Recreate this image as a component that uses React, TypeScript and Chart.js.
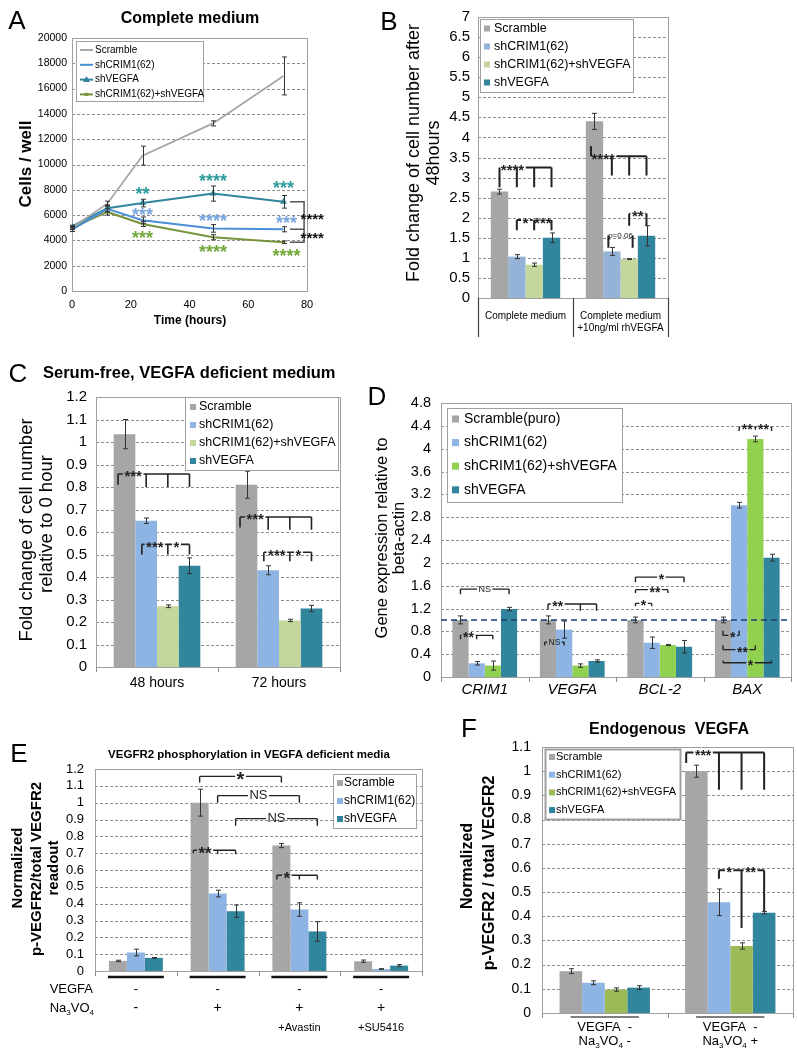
import React, { useEffect, useRef } from 'react';
import { Chart, registerables } from 'chart.js';

Chart.register(...registerables);

const FONT = '"Liberation Sans", Arial, Helvetica, sans-serif';
const PAGE_W = 797;
const PAGE_H = 1055;

// ---------------- colours ----------------
const C_GRAY = '#a6a6a6';
const C_LBLUE = '#8db4e2';
const C_LBLUE_B = '#95b3d7';
const C_LGREEN = '#c3d69b';
const C_GREEN_D = '#92d050';
const C_GREEN_F = '#9bbb59';
const C_TEAL = '#31859c';
const C_A_BLUE = '#4a8fd6';
const C_A_GREEN = '#77933c';
const C_STAR_TEAL = '#2e9c9c';
const C_STAR_BLUE = '#79a6de';
const C_STAR_GREEN = '#73a83a';

// ---------------- Panel A data ----------------
const aHours = [0, 12, 24, 48, 72];
const aNames = ['Scramble', 'shCRIM1(62)', 'shVEGFA', 'shCRIM1(62)+shVEGFA'];
const aScramble = [5000, 6900, 10700, 13250, 17000];
const aScrambleErr = [150, 200, 750, 200, 1500];
const aCrim = [4850, 6500, 5600, 4950, 4880];
const aCrimErr = [150, 250, 250, 300, 200];
const aVegfa = [5100, 6550, 6950, 7700, 7050];
const aVegfaErr = [100, 250, 300, 600, 500];
const aCombo = [5000, 6250, 5300, 4250, 3850];
const aComboErr = [100, 250, 200, 200, 100];
const aXRange = { min: 0, max: 80, step: 20 };
const aYRange = { min: 0, max: 20000, step: 2000 };
const aStarsVegfa = [{ x: 24, y: 7900, t: '**' }, { x: 48, y: 8900, t: '****' }, { x: 72, y: 8380, t: '***' }];
const aStarsCrim = [{ x: 24, y: 6270, t: '***' }, { x: 48, y: 5740, t: '****' }, { x: 73, y: 5610, t: '***' }];
const aStarsCombo = [{ x: 24, y: 4430, t: '***' }, { x: 48, y: 3320, t: '****' }, { x: 73, y: 2980, t: '****' }];
const aStarsCompare = [{ x: 81.8, y: 5870, t: '****' }, { x: 81.8, y: 4370, t: '****' }];
const aCompareBrackets = [
  [[74.2, 7050], [79, 7050], [79, 4880], [74.2, 4880]],
  [[79, 4880], [79, 3850], [74.2, 3850]],
];

// ---------------- Panel B data ----------------
const bCategories = [['Complete medium'], ['Complete medium', '+10ng/ml rhVEGFA']];
const bNames = ['Scramble', 'shCRIM1(62)', 'shCRIM1(62)+shVEGFA', 'shVEGFA'];
const bScramble = [2.65, 4.4];
const bScrambleErr = [0.06, 0.2];
const bCrim = [1.03, 1.16];
const bCrimErr = [0.05, 0.1];
const bCombo = [0.83, 0.97];
const bComboErr = [0.04, 0.01];
const bVegfa = [1.5, 1.55];
const bVegfaErr = [0.12, 0.25];
const bYRange = { min: 0, max: 7, step: 0.5 };
const bBrackets = [
  { g: 0, y: 3.25, pts: [[0, 2.76], [1, 2.76], [2, 2.76], [3, 2.76]], labels: [{ t: '****', at: 0.75 }] },
  { g: 0, y: 1.94, pts: [[1, 1.69], [2, 1.69], [3, 1.69]], labels: [{ t: '*', at: 1.5 }, { t: '***', at: 2.5 }] },
  { g: 1, y: 3.53, pts: [[-0.2, 3.78], [1, 3.05], [2, 3.05], [3, 3.05]], labels: [{ t: '****', at: 0.5 }] },
  { g: 1, y: 1.56, pts: [[0.8, 1.25], [2.2, 1.25]], labels: [{ t: 'p=0.06', at: 1.5, size: 8, weight: 'normal' }] },
  { g: 1, y: 2.1, pts: [[2, 1.8], [3, 1.8]], labels: [{ t: '**', at: 2.5 }] },
];

// ---------------- Panel C data ----------------
const cCategories = ['48 hours', '72 hours'];
const cNames = ['Scramble', 'shCRIM1(62)', 'shCRIM1(62)+shVEGFA', 'shVEGFA'];
const cScramble = [1.035, 0.81];
const cScrambleErr = [0.065, 0.06];
const cCrim = [0.65, 0.43];
const cCrimErr = [0.012, 0.02];
const cCombo = [0.27, 0.207];
const cComboErr = [0.006, 0.005];
const cVegfa = [0.45, 0.26];
const cVegfaErr = [0.035, 0.014];
const cYRange = { min: 0, max: 1.2, step: 0.1 };
const cBrackets = [
  { g: 0, y: 0.858, pts: [[-0.3, 0.81], [1, 0.8], [2, 0.8], [3, 0.8]], labels: [{ t: '***', at: 0.4 }] },
  { g: 0, y: 0.545, pts: [[0.8, 0.5], [2, 0.5], [3, 0.5]], labels: [{ t: '***', at: 1.4 }, { t: '*', at: 2.4 }] },
  { g: 1, y: 0.667, pts: [[-0.3, 0.62], [1, 0.61], [2, 0.61], [3, 0.61]], labels: [{ t: '***', at: 0.4 }] },
  { g: 1, y: 0.51, pts: [[0.8, 0.47], [2, 0.47], [3, 0.47]], labels: [{ t: '***', at: 1.4 }, { t: '*', at: 2.4 }] },
];

// ---------------- Panel D data ----------------
const dCategories = ['CRIM1', 'VEGFA', 'BCL-2', 'BAX'];
const dNames = ['Scramble(puro)', 'shCRIM1(62)', 'shCRIM1(62)+shVEGFA', 'shVEGFA'];
const dScramble = [1.0, 1.0, 1.0, 1.0];
const dScrambleErr = [0.07, 0.07, 0.05, 0.05];
const dCrim = [0.24, 0.83, 0.6, 3.01];
const dCrimErr = [0.03, 0.15, 0.1, 0.05];
const dCombo = [0.2, 0.2, 0.56, 4.17];
const dComboErr = [0.08, 0.03, 0.01, 0.05];
const dVegfa = [1.19, 0.28, 0.53, 2.09];
const dVegfaErr = [0.03, 0.02, 0.11, 0.06];
const dYRange = { min: 0, max: 4.8, step: 0.4 };
const dReference = 1.0;
const dBrackets = [
  { g: 0, y: 1.54, pts: [[0, 1.45], [3, 1.45]], labels: [{ t: 'NS', at: 1.5, size: 9, weight: 'normal' }] },
  { g: 0, y: 0.73, pts: [[0, 0.66], [1, 0.66], [2, 0.66]], labels: [{ t: '**', at: 0.5 }] },
  { g: 1, y: 1.28, pts: [[0, 1.18], [2, 1.16], [3, 1.16]], labels: [{ t: '**', at: 0.6 }] },
  { g: 1, y: 0.61, pts: [[-0.2, 0.55], [1, 0.55]], labels: [{ t: 'NS', at: 0.4, size: 8.5, weight: 'normal' }] },
  { g: 2, y: 1.75, pts: [[0, 1.66], [3, 1.66]], labels: [{ t: '*', at: 1.6 }] },
  { g: 2, y: 1.53, pts: [[0, 1.47], [2, 1.47]], labels: [{ t: '**', at: 1.2 }] },
  { g: 2, y: 1.29, pts: [[0, 1.24], [1, 1.24]], labels: [{ t: '*', at: 0.5 }] },
  { g: 3, y: 4.38, pts: [[1, 4.31], [2, 4.33], [3, 4.31]], labels: [{ t: '**', at: 1.5 }, { t: '**', at: 2.5 }] },
  { g: 3, y: 0.73, pts: [[0, 0.81], [1, 0.81]], labels: [{ t: '*', at: 0.6 }] },
  { g: 3, y: 0.48, pts: [[0, 0.55], [2, 0.55]], labels: [{ t: '**', at: 1.2 }] },
  { g: 3, y: 0.25, pts: [[0, 0.29], [3, 0.29]], labels: [{ t: '*', at: 1.7 }] },
];

// ---------------- Panel E data ----------------
const eGroups = ['G1', 'G2', 'G3', 'G4'];
const eNames = ['Scramble', 'shCRIM1(62)', 'shVEGFA'];
const eScramble = [0.06, 1.0, 0.745, 0.058];
const eScrambleErr = [0.004, 0.08, 0.012, 0.007];
const eCrim = [0.11, 0.46, 0.365, 0.012];
const eCrimErr = [0.02, 0.02, 0.04, 0.002];
const eVegfa = [0.078, 0.355, 0.235, 0.032];
const eVegfaErr = [0.002, 0.037, 0.058, 0.006];
const eVegfaRow = ['-', '-', '-', '-'];
const eNaRow = ['-', '+', '+', '+'];
const eExtraRow = ['', '', '+Avastin', '+SU5416'];
const eYRange = { min: 0, max: 1.2, step: 0.1 };
const eBrackets = [
  { g: 1, y: 1.156, pts: [[0, 1.12], [0, 1.12, 2]], labels: [{ t: '*', at: 'mid', size: 20 }] },
  { g: 1, y: 1.042, pts: [[1, 1.0], [1, 1.0, 2]], labels: [{ t: 'NS', at: 'mid', size: 13, weight: 'normal' }] },
  { g: 1, y: 0.905, pts: [[2, 0.863], [2, 0.863, 2]], labels: [{ t: 'NS', at: 'mid', size: 13, weight: 'normal' }] },
  { g: 1, y: 0.717, pts: [[-0.35, 0.7], [1, 0.693], [2, 0.693]], labels: [{ t: '**', at: 0.3, size: 17 }] },
  { g: 2, y: 0.569, pts: [[-0.25, 0.543], [1, 0.543], [2, 0.543]], labels: [{ t: '*', at: 0.3, size: 17 }] },
];

// ---------------- Panel F data ----------------
const fGroups = ['G1', 'G2'];
const fNames = ['Scramble', 'shCRIM1(62)', 'shCRIM1(62)+shVEGFA', 'shVEGFA'];
const fScramble = [0.173, 1.0];
const fScrambleErr = [0.01, 0.025];
const fCrim = [0.125, 0.458];
const fCrimErr = [0.008, 0.055];
const fCombo = [0.097, 0.277];
const fComboErr = [0.007, 0.013];
const fVegfa = [0.105, 0.415];
const fVegfaErr = [0.008, 0.005];
const fVegfaRow = ['VEGFA  -', 'VEGFA  -'];
const fNaRow = ['-', '+'];
const fYRange = { min: 0, max: 1.1, step: 0.1 };
const fBrackets = [
  { g: 1, y: 1.077, pts: [[-0.45, 1.034], [1, 0.923], [2, 0.923], [3, 0.923]], labels: [{ t: '***', at: 0.3 }] },
  { g: 1, y: 0.59, pts: [[1, 0.555], [2, 0.351], [3, 0.422]], labels: [{ t: '*', at: 1.45 }, { t: '**', at: 2.4 }] },
];

// ---------------- helpers ----------------
const fontStr = (size: number, weight = 'normal', style = 'normal') => `${style} ${weight} ${size}px ${FONT}`;
const fmt = (v: any) => String(Math.round(Number(v) * 100) / 100);
const naSegs = (suffix: string) => [{ t: 'Na' }, { t: '3', sub: true }, { t: 'VO' }, { t: '4', sub: true }, { t: suffix }];

function drawTextItem(ctx: CanvasRenderingContext2D, t: any) {
  ctx.save();
  ctx.fillStyle = t.color || '#000';
  ctx.font = fontStr(t.size, t.weight || 'normal', t.style || 'normal');
  ctx.textBaseline = 'middle';
  ctx.textAlign = t.align || 'center';
  ctx.translate(t.x, t.y);
  if (t.rot) ctx.rotate(t.rot);
  ctx.fillText(t.text, 0, 0);
  ctx.restore();
}

function drawRich(ctx: CanvasRenderingContext2D, segs: any[], x: number, y: number, size: number, align: string) {
  ctx.save();
  ctx.fillStyle = '#000';
  ctx.textBaseline = 'middle';
  ctx.textAlign = 'left';
  const widths = segs.map((s) => {
    ctx.font = fontStr(s.sub ? size * 0.62 : size);
    return ctx.measureText(s.t).width;
  });
  const total = widths.reduce((a, b) => a + b, 0);
  let cx = align === 'right' ? x - total : align === 'center' ? x - total / 2 : x;
  segs.forEach((s, i) => {
    ctx.font = fontStr(s.sub ? size * 0.62 : size);
    ctx.fillText(s.t, cx, s.sub ? y + size * 0.33 : y);
    cx += widths[i];
  });
  ctx.restore();
}

function barX(chart: any, g: number, b: number) {
  const m0 = chart.getDatasetMeta(0).data[g];
  const m1 = chart.getDatasetMeta(1).data[g];
  return m0.x + b * (m1.x - m0.x);
}

function drawBracket(chart: any, br: any, st: any) {
  const ctx = chart.ctx;
  const ys = chart.scales.y;
  const yp = ys.getPixelForValue(br.y);
  const xs = br.pts.map((p: any) => barX(chart, p.length > 2 ? p[2] : br.g, p[0]));
  const x0 = Math.min(...xs);
  const x1 = Math.max(...xs);
  ctx.save();
  ctx.strokeStyle = st.color;
  ctx.fillStyle = st.color;
  ctx.lineWidth = st.lw;
  const labs = (br.labels || []).map((l: any) => {
    const size = l.size || st.size;
    const weight = l.weight || st.weight;
    ctx.font = fontStr(size, weight);
    const w = ctx.measureText(l.t).width;
    const lx = l.at === 'mid' ? (x0 + x1) / 2 : barX(chart, br.g, l.at);
    return { t: l.t, size, weight, w, lx };
  });
  let segs: number[][] = [[x0, x1]];
  labs.forEach((l: any) => {
    const g0 = l.lx - l.w / 2 - 1.5;
    const g1 = l.lx + l.w / 2 + 1.5;
    const out: number[][] = [];
    segs.forEach(([s0, s1]) => {
      if (g1 <= s0 || g0 >= s1) { out.push([s0, s1]); return; }
      if (g0 > s0) out.push([s0, g0]);
      if (g1 < s1) out.push([g1, s1]);
    });
    segs = out;
  });
  ctx.beginPath();
  segs.forEach(([s0, s1]) => { ctx.moveTo(s0, yp); ctx.lineTo(s1, yp); });
  br.pts.forEach((p: any, i: number) => {
    ctx.moveTo(xs[i], yp);
    ctx.lineTo(xs[i], ys.getPixelForValue(p[1]));
  });
  ctx.stroke();
  labs.forEach((l: any) => {
    ctx.font = fontStr(l.size, l.weight);
    ctx.textAlign = 'center';
    if (/^\*+$/.test(l.t)) {
      ctx.textBaseline = 'alphabetic';
      ctx.fillText(l.t, l.lx, yp + l.size * 0.5);
    } else {
      ctx.textBaseline = 'middle';
      ctx.fillText(l.t, l.lx, yp);
    }
  });
  ctx.restore();
}

function drawLegend(ctx: CanvasRenderingContext2D, L: any) {
  ctx.save();
  ctx.fillStyle = '#fff';
  ctx.fillRect(L.x, L.y, L.w, L.h);
  ctx.strokeStyle = L.border || '#a0a0a0';
  ctx.lineWidth = L.borderW || 1;
  ctx.strokeRect(L.x + 0.5, L.y + 0.5, L.w, L.h);
  L.items.forEach((it: any, i: number) => {
    const cy = L.rowY0 + i * L.rowStep;
    if (it.kind === 'box') {
      ctx.fillStyle = it.color;
      ctx.fillRect(L.markerX, cy - L.ms / 2, L.ms, L.ms);
    } else {
      ctx.strokeStyle = it.color;
      ctx.lineWidth = 2;
      ctx.beginPath();
      ctx.moveTo(L.markerX, cy);
      ctx.lineTo(L.markerX + L.markerW, cy);
      ctx.stroke();
      const mx = L.markerX + L.markerW / 2;
      ctx.fillStyle = it.color;
      if (it.kind === 'lineTri') {
        ctx.beginPath();
        ctx.moveTo(mx, cy - 3.5);
        ctx.lineTo(mx + 3.5, cy + 2.5);
        ctx.lineTo(mx - 3.5, cy + 2.5);
        ctx.closePath();
        ctx.fill();
      } else if (it.kind === 'lineDot') {
        ctx.fillRect(mx - 2, cy - 1.5, 4, 3);
      }
    }
    ctx.fillStyle = '#000';
    ctx.font = fontStr(L.size);
    ctx.textAlign = 'left';
    ctx.textBaseline = 'middle';
    ctx.fillText(it.label, L.textX, cy);
  });
  ctx.restore();
}

function decoPlugin(d: any) {
  return {
    id: 'deco',
    beforeDatasetsDraw(chart: any) {
      const ctx = chart.ctx;
      const a = chart.chartArea;
      const ys = chart.scales.y;
      ctx.save();
      if (d.grid) {
        ctx.strokeStyle = '#8f8f8f';
        ctx.lineWidth = 1;
        ctx.setLineDash([3, 2]);
        ys.ticks.forEach((t: any) => {
          const y = Math.round(ys.getPixelForValue(t.value)) + 0.5;
          if (y < a.top + 1.5 || y > a.bottom - 1.5) return;
          ctx.beginPath();
          ctx.moveTo(a.left, y);
          ctx.lineTo(a.right, y);
          ctx.stroke();
        });
        ctx.setLineDash([]);
      }
      if (d.box) {
        ctx.strokeStyle = d.boxColor || '#a0a0a0';
        ctx.lineWidth = 1;
        ctx.strokeRect(Math.round(a.left) + 0.5, Math.round(a.top) + 0.5, Math.round(a.right - a.left), Math.round(a.bottom - a.top));
      }
      ctx.restore();
    },
    afterDatasetsDraw(chart: any) {
      const ctx = chart.ctx;
      const a = chart.chartArea;
      const ys = chart.scales.y;
      const xsc = chart.scales.x;
      ctx.save();
      if (d.hline) {
        const y = ys.getPixelForValue(d.hline.value);
        ctx.strokeStyle = d.hline.color;
        ctx.lineWidth = d.hline.width;
        ctx.setLineDash(d.hline.dash);
        ctx.beginPath();
        ctx.moveTo(a.left, y);
        ctx.lineTo(a.right, y);
        ctx.stroke();
        ctx.setLineDash([]);
      }
      if (d.errors) {
        ctx.strokeStyle = '#333';
        ctx.lineWidth = 1;
        d.errors.forEach((errs: number[], i: number) => {
          const meta = chart.getDatasetMeta(i);
          meta.data.forEach((el: any, j: number) => {
            const v = d.values[i][j];
            const e = errs[j];
            if (!e) return;
            const y1 = ys.getPixelForValue(v + e);
            const y2 = ys.getPixelForValue(v - e);
            const x = Math.round(el.x) + 0.5;
            ctx.beginPath();
            ctx.moveTo(x, y1); ctx.lineTo(x, y2);
            ctx.moveTo(x - 2.5, y1); ctx.lineTo(x + 2.5, y1);
            ctx.moveTo(x - 2.5, y2); ctx.lineTo(x + 2.5, y2);
            ctx.stroke();
          });
        });
      }
      if (d.xMarks) {
        const n = chart.data.labels.length;
        ctx.strokeStyle = '#8a8a8a';
        ctx.lineWidth = 1;
        ctx.beginPath();
        for (let i = 0; i <= n; i++) {
          const x = Math.round(xsc.getPixelForValue(i - 0.5)) + 0.5;
          ctx.moveTo(x, a.bottom);
          ctx.lineTo(x, a.bottom + d.xMarks);
        }
        ctx.stroke();
      }
      if (d.tableLines) {
        const n = chart.data.labels.length;
        ctx.strokeStyle = '#444';
        ctx.lineWidth = 1.2;
        ctx.beginPath();
        for (let i = 0; i <= n; i++) {
          const x = Math.round(xsc.getPixelForValue(i - 0.5)) + 0.5;
          ctx.moveTo(x, a.bottom);
          ctx.lineTo(x, a.bottom + d.tableLines);
        }
        ctx.stroke();
      }
      if (d.underlines) {
        const U = d.underlines;
        const nd = chart.data.datasets.length;
        ctx.strokeStyle = U.color;
        ctx.lineWidth = U.width;
        chart.data.labels.forEach((_: any, g: number) => {
          const first = chart.getDatasetMeta(0).data[g];
          const last = chart.getDatasetMeta(nd - 1).data[g];
          ctx.beginPath();
          ctx.moveTo(first.x - first.width / 2 + U.inset, U.y);
          ctx.lineTo(last.x + last.width / 2 - U.inset, U.y);
          ctx.stroke();
        });
      }
      if (d.legend) drawLegend(ctx, d.legend);
      if (d.brackets) d.brackets.forEach((br: any) => drawBracket(chart, br, d.bracketStyle));
      if (d.dataPaths) {
        d.dataPaths.forEach((P: any) => {
          ctx.strokeStyle = P.color;
          ctx.lineWidth = P.width;
          ctx.beginPath();
          P.pts.forEach((p: number[], i: number) => {
            const x = xsc.getPixelForValue(p[0]);
            const y = ys.getPixelForValue(p[1]);
            if (i === 0) ctx.moveTo(x, y); else ctx.lineTo(x, y);
          });
          ctx.stroke();
        });
      }
      if (d.dataTexts) {
        d.dataTexts.forEach((T: any) => {
          ctx.fillStyle = T.color;
          ctx.font = fontStr(T.size, 'bold');
          ctx.textAlign = 'center';
          ctx.textBaseline = 'alphabetic';
          T.items.forEach((s: any) => {
            ctx.fillText(s.t, xsc.getPixelForValue(s.x), ys.getPixelForValue(s.y) + T.size * 0.5);
          });
        });
      }
      if (d.groupRows) {
        d.groupRows.forEach((row: any) => {
          row.labels.forEach((lab: any, g: number) => {
            const x = xsc.getPixelForValue(g);
            if (row.rich) drawRich(ctx, lab, x, row.y, row.size, 'center');
            else drawTextItem(ctx, { text: lab, x, y: row.y, size: row.size });
          });
        });
      }
      if (d.texts) d.texts.forEach((t: any) => drawTextItem(ctx, t));
      if (d.rich) d.rich.forEach((r: any) => drawRich(ctx, r.segs, r.x, r.y, r.size, r.align));
      ctx.restore();
    },
  };
}

function baseOptions(g: any) {
  return {
    responsive: false,
    animation: false,
    devicePixelRatio: 1,
    events: [],
    layout: {
      padding: { left: g.left - g.yW, top: g.top, right: PAGE_W - g.right, bottom: PAGE_H - g.bottom - g.xH },
    },
    plugins: { legend: { display: false }, tooltip: { enabled: false }, title: { display: false } },
  };
}

function yScaleOpts(r: any, g: any, size: number, pad: number) {
  return {
    type: 'linear',
    min: r.min,
    max: r.max,
    grid: { display: false, drawTicks: false },
    border: { display: false },
    ticks: { stepSize: r.step, font: { family: FONT, size }, color: '#000', padding: pad, callback: fmt, autoSkip: false },
    afterFit: (s: any) => { s.width = g.yW; },
  };
}

function makeBar(canvas: HTMLCanvasElement, p: any) {
  const values = p.series.map((s: any) => s.data);
  const errors = p.series.map((s: any) => s.err);
  const opts: any = baseOptions(p.g);
  opts.scales = {
    x: {
      type: 'category',
      offset: true,
      grid: { display: false, drawTicks: false },
      border: { display: false },
      ticks: {
        display: p.x.display !== false,
        font: { family: FONT, size: p.x.size || 12, style: p.x.style || 'normal', lineHeight: 1.2 },
        color: '#000',
        padding: p.x.pad || 0,
        maxRotation: 0,
        minRotation: 0,
        autoSkip: false,
      },
      afterFit: (s: any) => { s.height = p.g.xH; },
    },
    y: yScaleOpts(p.y, p.g, p.y.size, p.y.pad),
  };
  return new Chart(canvas, {
    type: 'bar',
    data: {
      labels: p.labels,
      datasets: p.series.map((s: any) => ({
        label: s.name,
        data: s.data,
        backgroundColor: s.color,
        borderWidth: 0,
        categoryPercentage: p.cp,
        barPercentage: 1,
      })),
    },
    options: opts,
    plugins: [decoPlugin({ ...p.deco, values, errors })],
  } as any);
}

// ---------------- Panel builders ----------------
function makeA(canvas: HTMLCanvasElement) {
  const g = { left: 72, right: 307, top: 38, bottom: 291, yW: 50, xH: 22 };
  const series = [
    { data: aScramble, err: aScrambleErr, color: C_GRAY, kind: 'line', width: 1.8, r: 0, ps: 'circle' },
    { data: aCrim, err: aCrimErr, color: C_A_BLUE, kind: 'line', width: 2, r: 0, ps: 'circle' },
    { data: aVegfa, err: aVegfaErr, color: C_TEAL, kind: 'lineTri', width: 2, r: 4, ps: 'triangle' },
    { data: aCombo, err: aComboErr, color: C_A_GREEN, kind: 'lineDot', width: 2, r: 1.6, ps: 'rect' },
  ];
  const opts: any = baseOptions(g);
  opts.scales = {
    x: {
      type: 'linear',
      min: aXRange.min,
      max: aXRange.max,
      grid: { display: false, drawTicks: false },
      border: { display: false },
      ticks: { stepSize: aXRange.step, font: { family: FONT, size: 11 }, color: '#000', padding: 7, callback: fmt },
      afterFit: (s: any) => { s.height = g.xH; },
    },
    y: yScaleOpts(aYRange, g, 10.5, 5),
  };
  const deco = {
    grid: true,
    box: true,
    values: series.map((s) => s.data),
    errors: series.map((s) => s.err),
    legend: {
      x: 76, y: 41, w: 127, h: 60, rowY0: 50, rowStep: 14.8, markerX: 80, markerW: 13, ms: 6, textX: 95, size: 10,
      items: aNames.map((n, i) => ({ label: n, color: series[i].color, kind: series[i].kind })),
    },
    dataTexts: [
      { color: C_STAR_TEAL, size: 18, items: aStarsVegfa },
      { color: C_STAR_BLUE, size: 18, items: aStarsCrim },
      { color: C_STAR_GREEN, size: 18, items: aStarsCombo },
      { color: '#111', size: 15, items: aStarsCompare },
    ],
    dataPaths: aCompareBrackets.map((pts) => ({ pts, color: '#555', width: 1.5 })),
    texts: [
      { text: 'A', x: 17, y: 22, size: 26 },
      { text: 'Complete medium', x: 190, y: 19, size: 16, weight: 'bold' },
      { text: 'Cells / well', x: 26, y: 164, size: 17, weight: 'bold', rot: -Math.PI / 2 },
      { text: 'Time (hours)', x: 190, y: 321, size: 12, weight: 'bold' },
    ],
  };
  return new Chart(canvas, {
    type: 'line',
    data: {
      datasets: series.map((s, i) => ({
        label: aNames[i],
        data: aHours.map((x, j) => ({ x, y: s.data[j] })),
        borderColor: s.color,
        backgroundColor: s.color,
        borderWidth: s.width,
        pointRadius: s.r,
        pointStyle: s.ps,
        pointBackgroundColor: s.color,
        pointBorderWidth: 0,
        tension: 0,
        fill: false,
      })),
    },
    options: opts,
    plugins: [decoPlugin(deco)],
  } as any);
}

function makeB(canvas: HTMLCanvasElement) {
  return makeBar(canvas, {
    labels: bCategories,
    cp: 0.73,
    g: { left: 478, right: 668, top: 16, bottom: 298, yW: 50, xH: 42 },
    y: { ...bYRange, size: 15, pad: 8 },
    x: { size: 10, pad: 12 },
    series: [
      { name: bNames[0], data: bScramble, err: bScrambleErr, color: C_GRAY },
      { name: bNames[1], data: bCrim, err: bCrimErr, color: C_LBLUE_B },
      { name: bNames[2], data: bCombo, err: bComboErr, color: C_LGREEN },
      { name: bNames[3], data: bVegfa, err: bVegfaErr, color: C_TEAL },
    ],
    deco: {
      grid: true,
      box: true,
      tableLines: 39,
      legend: {
        x: 480, y: 19, w: 153, h: 73, rowY0: 28.5, rowStep: 18, markerX: 484, ms: 6, textX: 494, size: 12.5,
        items: bNames.map((n, i) => ({ label: n, color: [C_GRAY, C_LBLUE_B, C_LGREEN, C_TEAL][i], kind: 'box' })),
      },
      brackets: bBrackets,
      bracketStyle: { color: '#222', lw: 2, size: 15, weight: 'bold' },
      texts: [
        { text: 'B', x: 389, y: 23, size: 26 },
        { text: 'Fold change of cell number after', x: 414, y: 153, size: 18, rot: -Math.PI / 2 },
        { text: '48hours', x: 434, y: 153, size: 18, rot: -Math.PI / 2 },
      ],
    },
  });
}

function makeC(canvas: HTMLCanvasElement) {
  return makeBar(canvas, {
    labels: cCategories,
    cp: 0.71,
    g: { left: 96, right: 340, top: 397, bottom: 667, yW: 50, xH: 30 },
    y: { ...cYRange, size: 15, pad: 9 },
    x: { size: 14, pad: 8 },
    series: [
      { name: cNames[0], data: cScramble, err: cScrambleErr, color: C_GRAY },
      { name: cNames[1], data: cCrim, err: cCrimErr, color: C_LBLUE },
      { name: cNames[2], data: cCombo, err: cComboErr, color: C_LGREEN },
      { name: cNames[3], data: cVegfa, err: cVegfaErr, color: C_TEAL },
    ],
    deco: {
      grid: true,
      box: true,
      xMarks: 5,
      legend: {
        x: 185, y: 397, w: 153, h: 73, rowY0: 407, rowStep: 18, markerX: 190, ms: 6, textX: 199, size: 12.5,
        items: cNames.map((n, i) => ({ label: n, color: [C_GRAY, C_LBLUE, C_LGREEN, C_TEAL][i], kind: 'box' })),
      },
      brackets: cBrackets,
      bracketStyle: { color: '#222', lw: 1.6, size: 15, weight: 'bold' },
      texts: [
        { text: 'C', x: 18, y: 375, size: 26 },
        { text: 'Serum-free, VEGFA deficient medium', x: 43, y: 373, size: 16.5, weight: 'bold', align: 'left' },
        { text: 'Fold change of cell number', x: 27, y: 530, size: 18.5, rot: -Math.PI / 2 },
        { text: 'relative to 0 hour', x: 47, y: 524, size: 18.5, rot: -Math.PI / 2 },
      ],
    },
  });
}

function makeD(canvas: HTMLCanvasElement) {
  return makeBar(canvas, {
    labels: dCategories,
    cp: 0.74,
    g: { left: 441, right: 791, top: 403, bottom: 677, yW: 50, xH: 30 },
    y: { ...dYRange, size: 14.5, pad: 10 },
    x: { size: 15, pad: 4, style: 'italic' },
    series: [
      { name: dNames[0], data: dScramble, err: dScrambleErr, color: C_GRAY },
      { name: dNames[1], data: dCrim, err: dCrimErr, color: C_LBLUE },
      { name: dNames[2], data: dCombo, err: dComboErr, color: C_GREEN_D },
      { name: dNames[3], data: dVegfa, err: dVegfaErr, color: C_TEAL },
    ],
    deco: {
      grid: true,
      box: true,
      xMarks: 5,
      hline: { value: dReference, color: '#1f3b73', width: 1.5, dash: [6, 4] },
      legend: {
        x: 447, y: 408, w: 175, h: 94, rowY0: 419, rowStep: 23.6, markerX: 452, ms: 7, textX: 464, size: 14,
        items: dNames.map((n, i) => ({ label: n, color: [C_GRAY, C_LBLUE, C_GREEN_D, C_TEAL][i], kind: 'box' })),
      },
      brackets: dBrackets,
      bracketStyle: { color: '#222', lw: 1.4, size: 14, weight: 'bold' },
      texts: [
        { text: 'D', x: 377, y: 398, size: 26 },
        { text: 'Gene expression relative to', x: 382, y: 538, size: 16.5, rot: -Math.PI / 2 },
        { text: 'beta-actin', x: 399, y: 538, size: 16.5, rot: -Math.PI / 2 },
      ],
    },
  });
}

function makeE(canvas: HTMLCanvasElement) {
  return makeBar(canvas, {
    labels: eGroups,
    cp: 0.66,
    g: { left: 95, right: 422, top: 769, bottom: 971, yW: 50, xH: 20 },
    y: { ...eYRange, size: 13, pad: 11 },
    x: { display: false },
    series: [
      { name: eNames[0], data: eScramble, err: eScrambleErr, color: C_GRAY },
      { name: eNames[1], data: eCrim, err: eCrimErr, color: C_LBLUE },
      { name: eNames[2], data: eVegfa, err: eVegfaErr, color: C_TEAL },
    ],
    deco: {
      grid: true,
      box: true,
      xMarks: 5,
      underlines: { y: 977, color: '#111', width: 2.5, inset: -1 },
      legend: {
        x: 333, y: 774, w: 83, h: 54, rowY0: 783, rowStep: 18, markerX: 337, ms: 6, textX: 344, size: 12,
        items: eNames.map((n, i) => ({ label: n, color: [C_GRAY, C_LBLUE, C_TEAL][i], kind: 'box' })),
      },
      brackets: eBrackets,
      bracketStyle: { color: '#222', lw: 1.4, size: 17, weight: 'bold' },
      groupRows: [
        { y: 989, labels: eVegfaRow, size: 13 },
        { y: 1008, labels: eNaRow, size: 14 },
        { y: 1028, labels: eExtraRow, size: 11 },
      ],
      texts: [
        { text: 'E', x: 19, y: 755, size: 26 },
        { text: 'VEGFR2 phosphorylation in VEGFA deficient media', x: 249, y: 755, size: 11.5, weight: 'bold' },
        { text: 'Normalized', x: 18, y: 868, size: 15, weight: 'bold', rot: -Math.PI / 2 },
        { text: 'p-VEGFR2/total VEGFR2', x: 37, y: 869, size: 15, weight: 'bold', rot: -Math.PI / 2 },
        { text: 'readout', x: 54, y: 868, size: 15, weight: 'bold', rot: -Math.PI / 2 },
        { text: 'VEGFA', x: 93, y: 989, size: 13, align: 'right' },
      ],
      rich: [{ segs: naSegs(''), x: 94, y: 1008, size: 13, align: 'right' }],
    },
  });
}

function makeF(canvas: HTMLCanvasElement) {
  return makeBar(canvas, {
    labels: fGroups,
    cp: 0.72,
    g: { left: 542, right: 793, top: 747, bottom: 1013, yW: 50, xH: 20 },
    y: { ...fYRange, size: 14, pad: 11 },
    x: { display: false },
    series: [
      { name: fNames[0], data: fScramble, err: fScrambleErr, color: C_GRAY },
      { name: fNames[1], data: fCrim, err: fCrimErr, color: C_LBLUE },
      { name: fNames[2], data: fCombo, err: fComboErr, color: C_GREEN_F },
      { name: fNames[3], data: fVegfa, err: fVegfaErr, color: C_TEAL },
    ],
    deco: {
      grid: true,
      box: true,
      xMarks: 5,
      underlines: { y: 1017, color: '#555', width: 1.6, inset: 11 },
      legend: {
        x: 545, y: 749, w: 135, h: 70, rowY0: 757, rowStep: 17.7, markerX: 549, ms: 6, textX: 556, size: 11, borderW: 2,
        items: fNames.map((n, i) => ({ label: n, color: [C_GRAY, C_LBLUE, C_GREEN_F, C_TEAL][i], kind: 'box' })),
      },
      brackets: fBrackets,
      bracketStyle: { color: '#222', lw: 2, size: 14, weight: 'bold' },
      groupRows: [
        { y: 1027, labels: fVegfaRow, size: 13 },
        { y: 1041, labels: fNaRow.map((s) => naSegs(' ' + s)), size: 13, rich: true },
      ],
      texts: [
        { text: 'F', x: 469, y: 730, size: 26 },
        { text: 'Endogenous  VEGFA', x: 669, y: 730, size: 16, weight: 'bold' },
        { text: 'Normalized', x: 468, y: 866, size: 16, weight: 'bold', rot: -Math.PI / 2 },
        { text: 'p-VEGFR2 / total VEGFR2', x: 490, y: 873, size: 16, weight: 'bold', rot: -Math.PI / 2 },
      ],
    },
  });
}

export default function App() {
  const refs = [useRef<HTMLCanvasElement>(null), useRef<HTMLCanvasElement>(null), useRef<HTMLCanvasElement>(null),
    useRef<HTMLCanvasElement>(null), useRef<HTMLCanvasElement>(null), useRef<HTMLCanvasElement>(null)];
  useEffect(() => {
    const makers = [makeA, makeB, makeC, makeD, makeE, makeF];
    const charts = makers.map((m, i) => m(refs[i].current as HTMLCanvasElement));
    return () => charts.forEach((c) => c.destroy());
  }, []);
  return (
    <div style={{ position: 'absolute', left: 0, top: 0, width: PAGE_W, height: PAGE_H, background: '#fff', overflow: 'hidden' }}>
      {refs.map((r, i) => (
        <canvas key={i} ref={r} width={PAGE_W} height={PAGE_H} style={{ position: 'absolute', left: 0, top: 0 }} />
      ))}
    </div>
  );
}
